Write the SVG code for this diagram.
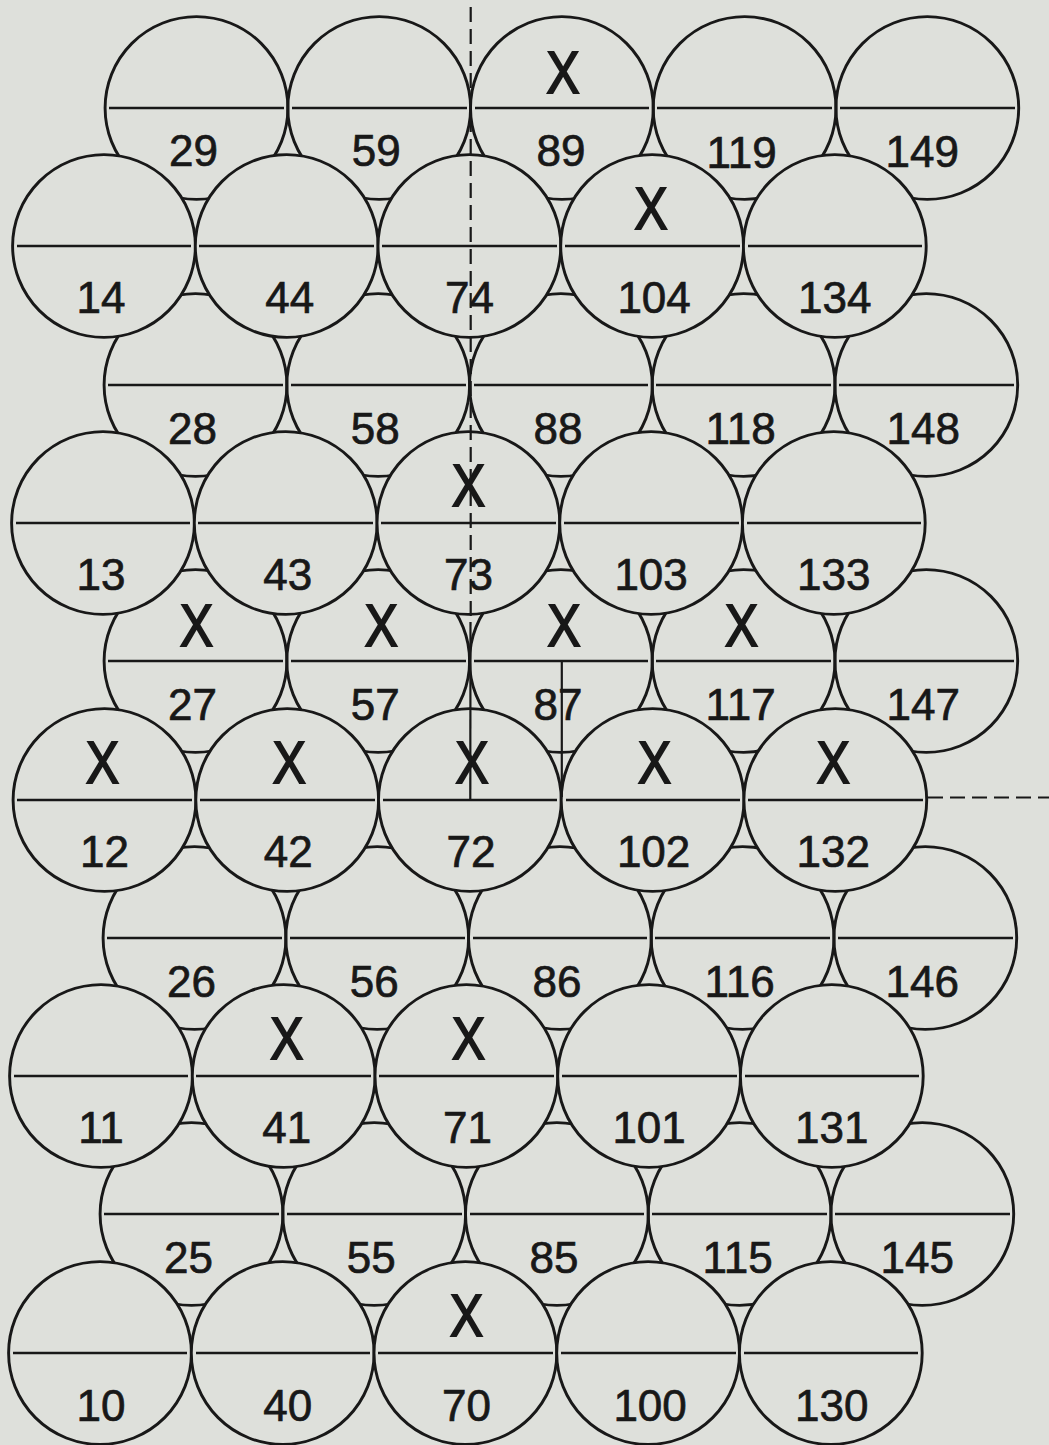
<svg xmlns="http://www.w3.org/2000/svg" width="1049" height="1445" viewBox="0 0 1049 1445">
<style>
.bk{fill:none;stroke:#181818;stroke-width:2.9}
.fr{fill:#dee0db;stroke:#181818;stroke-width:2.9}
.dv{stroke:#181818;stroke-width:2.4}
.n{font-family:"Liberation Sans",Arial,sans-serif;font-size:44px;fill:#181818;stroke:#181818;stroke-width:0.7;text-anchor:middle}
.x{font-family:"Liberation Sans",Arial,sans-serif;font-size:60px;fill:#181818;stroke:#181818;stroke-width:2;text-anchor:middle}
.g{stroke:#181818;stroke-width:2.2;fill:none}
.dash{stroke-dasharray:15 7}
</style>
<rect width="1049" height="1445" fill="#dee0db"/>
<!-- back rows -->
<g id="n29"><circle class="bk" cx="196.5" cy="108" r="91.4"/><line class="dv" x1="109" y1="108" x2="284" y2="108"/><text class="n" x="193.5" y="166">29</text></g>
<g id="n59"><circle class="bk" cx="379.2" cy="108" r="91.4"/><line class="dv" x1="292" y1="108" x2="467" y2="108"/><text class="n" x="376.2" y="166">59</text></g>
<g id="n89"><circle class="bk" cx="561.9" cy="108" r="91.4"/><line class="dv" x1="475" y1="108" x2="649" y2="108"/><text class="n" x="560.9" y="166">89</text><text class="x" x="562.9" y="93" textLength="33" lengthAdjust="spacingAndGlyphs">X</text></g>
<g id="n119"><circle class="bk" cx="744.6" cy="108" r="91.4"/><line class="dv" x1="657" y1="108" x2="832" y2="108"/><text class="n" x="741.6" y="168">119</text></g>
<g id="n149"><circle class="bk" cx="927.3" cy="108" r="91.4"/><line class="dv" x1="840" y1="108" x2="1015" y2="108"/><text class="n" x="922.3" y="167">149</text></g>

<g id="n28"><circle class="bk" cx="195.5" cy="385" r="91.4"/><line class="dv" x1="108" y1="385" x2="283" y2="385"/><text class="n" x="192.5" y="444">28</text></g>
<g id="n58"><circle class="bk" cx="378.2" cy="385" r="91.4"/><line class="dv" x1="291" y1="385" x2="466" y2="385"/><text class="n" x="375.2" y="444">58</text></g>
<g id="n88"><circle class="bk" cx="560.9" cy="385" r="91.4"/><line class="dv" x1="474" y1="385" x2="648" y2="385"/><text class="n" x="557.9" y="444">88</text></g>
<g id="n118"><circle class="bk" cx="743.6" cy="385" r="91.4"/><line class="dv" x1="656" y1="385" x2="831" y2="385"/><text class="n" x="740.6" y="444">118</text></g>
<g id="n148"><circle class="bk" cx="926.3" cy="385" r="91.4"/><line class="dv" x1="839" y1="385" x2="1014" y2="385"/><text class="n" x="923.3" y="444">148</text></g>

<g id="n27"><circle class="bk" cx="195.5" cy="661" r="91.4"/><line class="dv" x1="108" y1="661" x2="283" y2="661"/><text class="n" x="192.5" y="720">27</text><text class="x" x="196.5" y="646" textLength="33" lengthAdjust="spacingAndGlyphs">X</text></g>
<g id="n57"><circle class="bk" cx="378.2" cy="661" r="91.4"/><line class="dv" x1="291" y1="661" x2="466" y2="661"/><text class="n" x="375.2" y="720">57</text><text class="x" x="381.2" y="646" textLength="33" lengthAdjust="spacingAndGlyphs">X</text></g>
<g id="n87"><circle class="bk" cx="560.9" cy="661" r="91.4"/><line class="dv" x1="474" y1="661" x2="648" y2="661"/><text class="n" x="557.9" y="720">87</text><text class="x" x="563.9" y="646" textLength="33" lengthAdjust="spacingAndGlyphs">X</text></g>
<g id="n117"><circle class="bk" cx="743.6" cy="661" r="91.4"/><line class="dv" x1="656" y1="661" x2="831" y2="661"/><text class="n" x="740.6" y="720">117</text><text class="x" x="741.6" y="646" textLength="33" lengthAdjust="spacingAndGlyphs">X</text></g>
<g id="n147"><circle class="bk" cx="926.3" cy="661" r="91.4"/><line class="dv" x1="839" y1="661" x2="1014" y2="661"/><text class="n" x="923.3" y="720">147</text></g>

<g id="n26"><circle class="bk" cx="194.5" cy="938" r="91.4"/><line class="dv" x1="107" y1="938" x2="282" y2="938"/><text class="n" x="191.5" y="997">26</text></g>
<g id="n56"><circle class="bk" cx="377.2" cy="938" r="91.4"/><line class="dv" x1="290" y1="938" x2="465" y2="938"/><text class="n" x="374.2" y="997">56</text></g>
<g id="n86"><circle class="bk" cx="559.9" cy="938" r="91.4"/><line class="dv" x1="473" y1="938" x2="647" y2="938"/><text class="n" x="556.9" y="997">86</text></g>
<g id="n116"><circle class="bk" cx="742.6" cy="938" r="91.4"/><line class="dv" x1="655" y1="938" x2="830" y2="938"/><text class="n" x="739.6" y="997">116</text></g>
<g id="n146"><circle class="bk" cx="925.3" cy="938" r="91.4"/><line class="dv" x1="838" y1="938" x2="1013" y2="938"/><text class="n" x="922.3" y="997">146</text></g>

<g id="n25"><circle class="bk" cx="191.5" cy="1214" r="91.4"/><line class="dv" x1="104" y1="1214" x2="279" y2="1214"/><text class="n" x="188.5" y="1273">25</text></g>
<g id="n55"><circle class="bk" cx="374.2" cy="1214" r="91.4"/><line class="dv" x1="287" y1="1214" x2="462" y2="1214"/><text class="n" x="371.2" y="1273">55</text></g>
<g id="n85"><circle class="bk" cx="556.9" cy="1214" r="91.4"/><line class="dv" x1="470" y1="1214" x2="644" y2="1214"/><text class="n" x="553.9" y="1273">85</text></g>
<g id="n115"><circle class="bk" cx="739.6" cy="1214" r="91.4"/><line class="dv" x1="652" y1="1214" x2="827" y2="1214"/><text class="n" x="737.6" y="1273">115</text></g>
<g id="n145"><circle class="bk" cx="922.3" cy="1214" r="91.4"/><line class="dv" x1="835" y1="1214" x2="1010" y2="1214"/><text class="n" x="917.3" y="1273">145</text></g>

<!-- front rows -->
<g id="n14"><circle class="fr" cx="104" cy="246" r="91.4"/><line class="dv" x1="17" y1="246" x2="191" y2="246"/><text class="n" x="101" y="313">14</text></g>
<g id="n44"><circle class="fr" cx="286.7" cy="246" r="91.4"/><line class="dv" x1="199" y1="246" x2="374" y2="246"/><text class="n" x="289.7" y="313">44</text></g>
<g id="n74"><circle class="fr" cx="469.4" cy="246" r="91.4"/><line class="dv" x1="382" y1="246" x2="557" y2="246"/><text class="n" x="469.4" y="313">74</text></g>
<g id="n104"><circle class="fr" cx="652.1" cy="246" r="91.4"/><line class="dv" x1="565" y1="246" x2="740" y2="246"/><text class="n" x="654.1" y="313">104</text><text class="x" x="651.1" y="229" textLength="33" lengthAdjust="spacingAndGlyphs">X</text></g>
<g id="n134"><circle class="fr" cx="834.8" cy="246" r="91.4"/><line class="dv" x1="748" y1="246" x2="922" y2="246"/><text class="n" x="834.8" y="313">134</text></g>

<g id="n13"><circle class="fr" cx="103" cy="523" r="91.4"/><line class="dv" x1="16" y1="523" x2="190" y2="523"/><text class="n" x="101" y="590">13</text></g>
<g id="n43"><circle class="fr" cx="285.7" cy="523" r="91.4"/><line class="dv" x1="198" y1="523" x2="373" y2="523"/><text class="n" x="287.7" y="590">43</text></g>
<g id="n73"><circle class="fr" cx="468.4" cy="523" r="91.4"/><line class="dv" x1="381" y1="523" x2="556" y2="523"/><text class="n" x="468.4" y="590">73</text><text class="x" x="468.4" y="506" textLength="33" lengthAdjust="spacingAndGlyphs">X</text></g>
<g id="n103"><circle class="fr" cx="651.1" cy="523" r="91.4"/><line class="dv" x1="564" y1="523" x2="739" y2="523"/><text class="n" x="651.1" y="590">103</text></g>
<g id="n133"><circle class="fr" cx="833.8" cy="523" r="91.4"/><line class="dv" x1="747" y1="523" x2="921" y2="523"/><text class="n" x="833.8" y="590">133</text></g>

<g id="n12"><circle class="fr" cx="104.5" cy="800" r="91.4"/><line class="dv" x1="17" y1="800" x2="192" y2="800"/><text class="n" x="104.5" y="867">12</text><text class="x" x="102.5" y="783" textLength="33" lengthAdjust="spacingAndGlyphs">X</text></g>
<g id="n42"><circle class="fr" cx="287.2" cy="800" r="91.4"/><line class="dv" x1="200" y1="800" x2="375" y2="800"/><text class="n" x="288.2" y="867">42</text><text class="x" x="289.2" y="783" textLength="33" lengthAdjust="spacingAndGlyphs">X</text></g>
<g id="n72"><circle class="fr" cx="469.9" cy="800" r="91.4"/><line class="dv" x1="383" y1="800" x2="557" y2="800"/><text class="n" x="470.9" y="867">72</text><text class="x" x="471.9" y="783" textLength="33" lengthAdjust="spacingAndGlyphs">X</text></g>
<g id="n102"><circle class="fr" cx="652.6" cy="800" r="91.4"/><line class="dv" x1="566" y1="800" x2="740" y2="800"/><text class="n" x="653.6" y="867">102</text><text class="x" x="654.6" y="783" textLength="33" lengthAdjust="spacingAndGlyphs">X</text></g>
<g id="n132"><circle class="fr" cx="835.3" cy="800" r="91.4"/><line class="dv" x1="748" y1="800" x2="923" y2="800"/><text class="n" x="833.3" y="867">132</text><text class="x" x="833.3" y="783" textLength="33" lengthAdjust="spacingAndGlyphs">X</text></g>

<g id="n11"><circle class="fr" cx="101" cy="1076" r="91.4"/><line class="dv" x1="14" y1="1076" x2="188" y2="1076"/><text class="n" x="101" y="1143">11</text></g>
<g id="n41"><circle class="fr" cx="283.7" cy="1076" r="91.4"/><line class="dv" x1="196" y1="1076" x2="371" y2="1076"/><text class="n" x="286.7" y="1143">41</text><text class="x" x="286.7" y="1059" textLength="33" lengthAdjust="spacingAndGlyphs">X</text></g>
<g id="n71"><circle class="fr" cx="466.4" cy="1076" r="91.4"/><line class="dv" x1="379" y1="1076" x2="554" y2="1076"/><text class="n" x="467.4" y="1143">71</text><text class="x" x="468.4" y="1059" textLength="33" lengthAdjust="spacingAndGlyphs">X</text></g>
<g id="n101"><circle class="fr" cx="649.1" cy="1076" r="91.4"/><line class="dv" x1="562" y1="1076" x2="737" y2="1076"/><text class="n" x="649.1" y="1143">101</text></g>
<g id="n131"><circle class="fr" cx="831.8" cy="1076" r="91.4"/><line class="dv" x1="745" y1="1076" x2="919" y2="1076"/><text class="n" x="831.8" y="1143">131</text></g>

<g id="n10"><circle class="fr" cx="100" cy="1353" r="91.4"/><line class="dv" x1="13" y1="1353" x2="187" y2="1353"/><text class="n" x="101" y="1421">10</text></g>
<g id="n40"><circle class="fr" cx="282.7" cy="1353" r="91.4"/><line class="dv" x1="196" y1="1353" x2="370" y2="1353"/><text class="n" x="287.7" y="1421">40</text></g>
<g id="n70"><circle class="fr" cx="465.4" cy="1353" r="91.4"/><line class="dv" x1="378" y1="1353" x2="553" y2="1353"/><text class="n" x="466.4" y="1421">70</text><text class="x" x="466.4" y="1336" textLength="33" lengthAdjust="spacingAndGlyphs">X</text></g>
<g id="n100"><circle class="fr" cx="648.1" cy="1353" r="91.4"/><line class="dv" x1="561" y1="1353" x2="736" y2="1353"/><text class="n" x="650.1" y="1421">100</text></g>
<g id="n130"><circle class="fr" cx="830.8" cy="1353" r="91.4"/><line class="dv" x1="744" y1="1353" x2="918" y2="1353"/><text class="n" x="831.8" y="1421">130</text></g>

<!-- reference lines -->
<g id="connectors">
<line class="g dash" x1="470.7" y1="7" x2="470.7" y2="622"/>
<line class="g" x1="470.5" y1="622" x2="470.3" y2="799"/>
<line class="g" x1="561.8" y1="661" x2="561.8" y2="797"/>
<line class="g dash" x1="928" y1="797.5" x2="1049" y2="797.5"/>
</g>
</svg>
